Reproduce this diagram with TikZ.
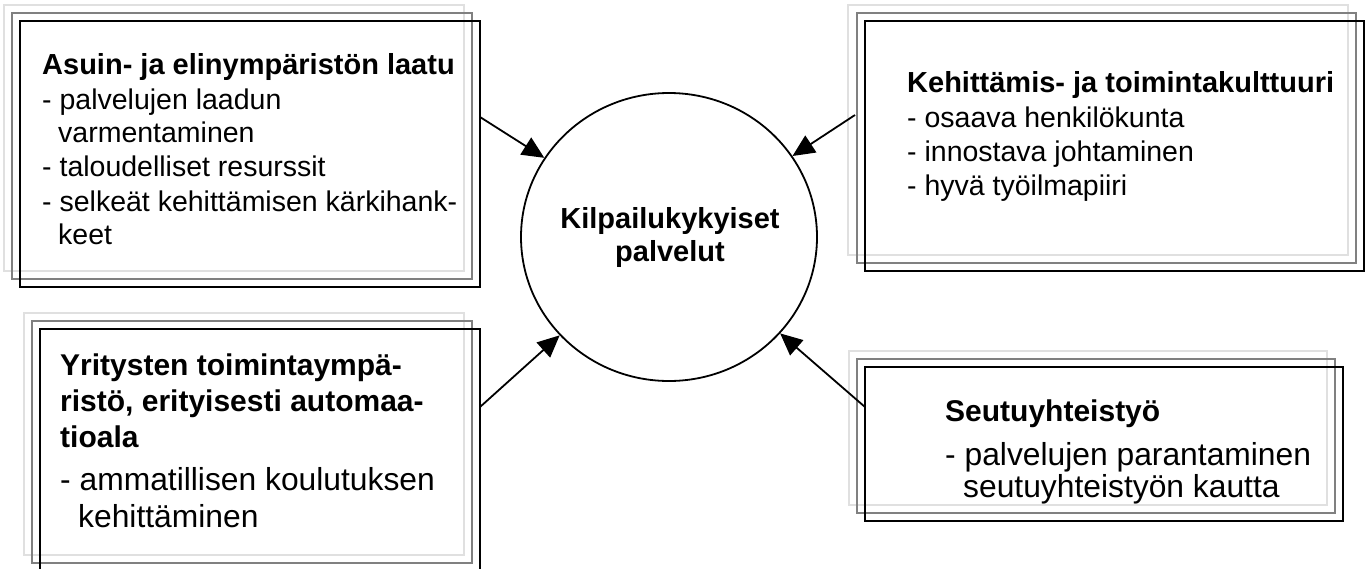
\documentclass[tikz,border=0pt]{standalone}
\usepackage{fontspec}
\setmainfont{Liberation Sans}
\usetikzlibrary{arrows.meta,shapes.geometric}
\tikzset{
  lg/.style={draw=black!12, line width=2pt},
  mg/.style={draw=black!50, line width=2pt},
  bk/.style={draw=black, line width=2pt},
  txt/.style={anchor=base west, inner sep=0pt},
  fa/.style={font=\fontsize{28.5}{34}\selectfont},
  fab/.style={font=\bfseries\fontsize{29}{34}\selectfont},
  fb/.style={font=\fontsize{31.8}{36}\selectfont},
  fbb/.style={font=\bfseries\fontsize{30}{36}\selectfont},
  arr/.style={line width=1.8pt, -{Triangle[length=22pt,width=20pt]}},
}
\begin{document}
\begin{tikzpicture}[x=1pt,y=-1pt]
\useasboundingbox (0,0) rectangle (1365,568);
% box 1
\draw[lg] (4,5) rectangle (464,271);
\draw[mg] (12,13) rectangle (472,279);
\draw[bk] (20,21) rectangle (480,287);
% box 2
\draw[lg] (848,5) rectangle (1348,255);
\draw[mg] (857,13) rectangle (1356,263);
\draw[bk] (865,21) rectangle (1364,271);
% box 3
\draw[lg] (24,313) rectangle (464,555);
\draw[mg] (32,321) rectangle (472,563);
\draw[bk] (40,329) rectangle (480,572);
% box 4
\draw[lg] (849,351) rectangle (1327,505);
\draw[mg] (857,359) rectangle (1335,513);
\draw[bk] (865,367) rectangle (1343,521);
% circle
\node[draw, line width=1.8pt, ellipse, minimum width=296pt, minimum height=288pt, inner sep=0pt] (c) at (669,237) {};
\node[fab, anchor=base, inner sep=0pt] (c1) at (670,228) {Kilpailukykyiset};
\node[fab, anchor=base, inner sep=0pt] (c2) at (670,261) {palvelut};
% box 1 text
\node[txt, fab] (t1a) at (42,74) {Asuin- ja elinympäristön laatu};
\node[txt, fa] (t1b) at (42,109) {- palvelujen laadun};
\node[txt, fa] (t1c) at (58,142) {varmentaminen};
\node[txt, fa] (t1d) at (42,176) {- taloudelliset resurssit};
\node[txt, fa] (t1e) at (42,211) {- selkeät kehittämisen kärkihank-};
\node[txt, fa] (t1f) at (58,244) {keet};
% box 2 text
\node[txt, fab] (t2a) at (907,92) {Kehittämis- ja toimintakulttuuri};
\node[txt, fa] (t2b) at (907,127) {- osaava henkilökunta};
\node[txt, fa] (t2c) at (907,161) {- innostava johtaminen};
\node[txt, fa] (t2d) at (907,195) {- hyvä työilmapiiri};
% box 3 text
\node[txt, fbb] (t3a) at (60,375) {Yritysten toimintaympä-};
\node[txt, fbb] (t3b) at (60,411) {ristö, erityisesti automaa-};
\node[txt, fbb] (t3c) at (60,447) {tioala};
\node[txt, fb] (t3d) at (60,490) {- ammatillisen koulutuksen};
\node[txt, fb] (t3e) at (78,527) {kehittäminen};
% box 4 text
\node[txt, fbb] (t4a) at (945,421) {Seutuyhteistyö};
\node[txt, fb] (t4b) at (945,465) {- palvelujen parantaminen};
\node[txt, fb] (t4c) at (963,497) {seutuyhteistyön kautta};
% arrows
\coordinate (a1) at (480,117);
\coordinate (a2) at (855,115);
\coordinate (a3) at (480,407);
\coordinate (a4) at (865,407);
\draw[arr] (a1) -- (c);
\draw[arr] (a2) -- (c);
\draw[arr] (a3) -- (c);
\draw[arr] (a4) -- (c);
\end{tikzpicture}
\end{document}
